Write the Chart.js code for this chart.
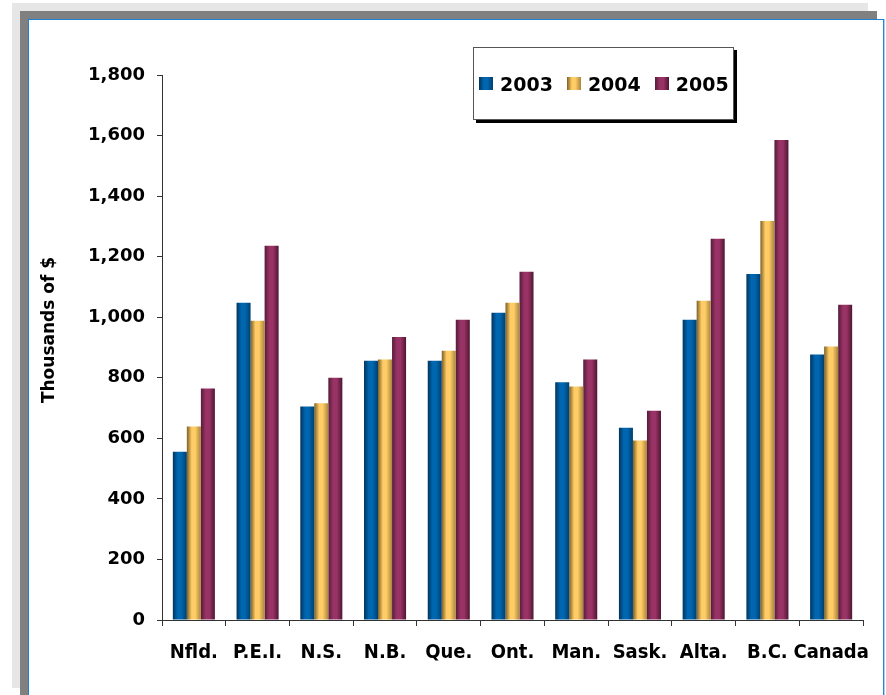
<!DOCTYPE html>
<html>
<head>
<meta charset="utf-8">
<title>Thousands of $ by province, 2003-2005</title>
<script src="https://cdn.jsdelivr.net/npm/chart.js@4.4.1/dist/chart.umd.min.js"></script>
<style>
  body { margin: 0; background: #fff; }
  #page { position: relative; width: 886px; height: 695px; overflow: hidden; }
  .shade-light { position: absolute; left: 12px; top: 3px; width: 856px; height: 685px; background: #e6e6e6; }
  .shade-dark { position: absolute; left: 20px; top: 11px; width: 857px; height: 700px; background: #808080; }
  .panel {
    position: absolute; left: 28px; top: 19px; width: 854px; height: 700px; background: #fff;
    border-left: 1px solid #1f7fd1; border-top: 1px solid #1f7fd1; border-right: 1px solid #2a86d4;
    box-shadow: 1px 0 0 #a8d2f0;
  }
  #chartBox { position: absolute; left: 0; top: 0; width: 886px; height: 695px; }
  #legend {
    position: absolute; left: 473px; top: 47px; width: 254px; height: 71px;
    border: 1px solid #555; background: #fff; box-shadow: 3px 3px 0 #000;
    display: flex; align-items: center; padding-left: 5px; box-sizing: content-box;
    font: bold 19px "DejaVu Sans", Verdana, sans-serif; color: #000;
  }
  #legend .item { display: flex; align-items: center; margin-right: 14px; }
  #legend .swatch { width: 14px; height: 13px; margin-right: 7px; }
</style>
</head>
<body>
<div id="page">
  <div class="shade-light"></div>
  <div class="shade-dark"></div>
  <div class="panel"></div>
  <div id="chartBox"><canvas id="provChart"></canvas></div>
  <div id="legend"></div>
</div>
<script>
// categories and yearly values (thousands of $)
const provinces = ["Nfld.", "P.E.I.", "N.S.", "N.B.", "Que.", "Ont.", "Man.", "Sask.", "Alta.", "B.C.", "Canada"];
const years = ["2003", "2004", "2005"];
const values2003 = [556, 1048, 705, 856, 856, 1015, 785, 635, 992, 1143, 877];
const values2004 = [639, 988, 716, 860, 889, 1048, 771, 593, 1054, 1318, 903];
const values2005 = [765, 1236, 800, 935, 992, 1150, 860, 691, 1259, 1585, 1041];
const yTicks = [0, 200, 400, 600, 800, 1000, 1200, 1400, 1600, 1800];
const yTitle = "Thousands of $";

// cylinder shading: edge, body, edge
const shades = [
  { left: "#00355e", base: "#0066b0", right: "#003f6e" },
  { left: "#7d5e24", base: "#ffcc66", right: "#a8843c" },
  { left: "#561b38", base: "#993366", right: "#4e1631" }
];
const CAT_PCT = 0.66;

function barFill(ctx) {
  const s = shades[ctx.datasetIndex];
  const xs = ctx.chart.scales && ctx.chart.scales.x;
  if (ctx.type !== "data" || !xs || !xs.width) return s.base;
  const step = xs.width / provinces.length;
  const group = step * CAT_PCT;
  const w = group / years.length;
  const left = xs.getPixelForValue(ctx.dataIndex) - group / 2 + ctx.datasetIndex * w;
  const g = ctx.chart.ctx.createLinearGradient(left, 0, left + w, 0);
  g.addColorStop(0, s.left);
  g.addColorStop(0.35, s.base);
  g.addColorStop(0.6, s.base);
  g.addColorStop(1, s.right);
  return g;
}

// rotated y-axis caption, sits a little above the axis middle
const axisTitle = {
  id: "axisTitle",
  afterDraw(chart) {
    const c = chart.ctx;
    c.save();
    c.translate(50, 330);
    c.rotate(-Math.PI / 2);
    c.font = 'bold 17px "DejaVu Sans", Verdana, sans-serif';
    c.fillStyle = "#000";
    c.textAlign = "center";
    c.textBaseline = "middle";
    c.fillText(yTitle, 0, 0);
    c.restore();
  }
};

const seriesValues = [values2003, values2004, values2005];

new Chart(document.getElementById("provChart"), {
  type: "bar",
  data: {
    labels: provinces,
    datasets: years.map((y, i) => ({
      label: y,
      data: seriesValues[i],
      backgroundColor: barFill,
      borderWidth: 0,
      categoryPercentage: CAT_PCT,
      barPercentage: 1
    }))
  },
  options: {
    responsive: true,
    maintainAspectRatio: false,
    animation: false,
    layout: { padding: { top: 75, right: 23, left: 0, bottom: 0 } },
    plugins: { legend: { display: false }, tooltip: { enabled: false } },
    scales: {
      x: {
        grid: { offset: true, drawOnChartArea: false, drawTicks: true, tickLength: 6, color: "#333" },
        border: { color: "#333" },
        ticks: {
          color: "#000",
          padding: 15,
          maxRotation: 0,
          autoSkip: false,
          font: { family: "'DejaVu Sans Condensed', 'DejaVu Sans', sans-serif", weight: "bold", size: 20 }
        },
        afterFit: s => { s.height = 75; }
      },
      y: {
        min: 0,
        max: 1800,
        afterBuildTicks: s => { s.ticks = yTicks.map(v => ({ value: v })); },
        grid: { drawOnChartArea: false, drawTicks: true, tickLength: 5, color: "#333" },
        border: { color: "#333" },
        ticks: {
          color: "#000",
          padding: 12,
          font: { family: "'DejaVu Sans', Verdana, sans-serif", weight: "bold", size: 18 },
          callback: v => v.toLocaleString("en-US")
        },
        afterFit: s => { s.width = 162; }
      }
    }
  },
  plugins: [axisTitle]
});

// legend box with shaded swatches
const legend = document.getElementById("legend");
years.forEach((y, i) => {
  const s = shades[i];
  const item = document.createElement("div");
  item.className = "item";
  item.innerHTML = `<span class="swatch" style="background:linear-gradient(to right, ${s.left}, ${s.base} 35%, ${s.base} 60%, ${s.right})"></span><span>${y}</span>`;
  legend.appendChild(item);
});
</script>
</body>
</html>
